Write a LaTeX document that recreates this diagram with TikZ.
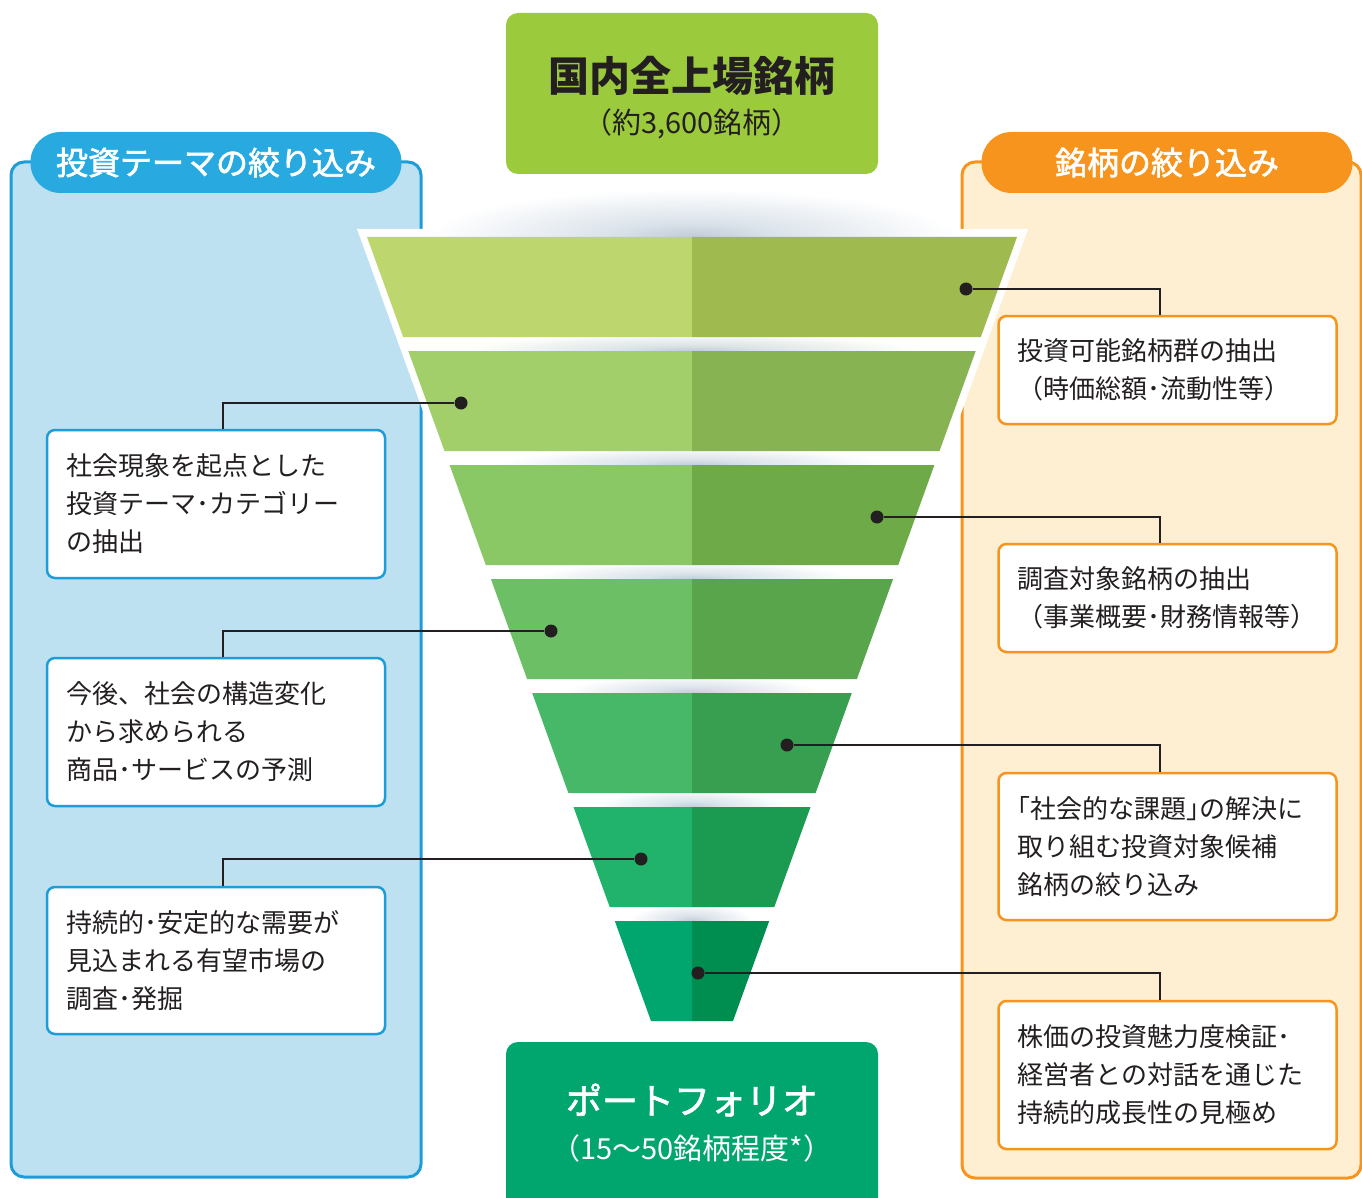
\documentclass[tikz,border=0pt]{standalone}
\usepackage{fontspec}
\newfontfamily\jp{Noto Sans CJK JP}
\newfontfamily\jpm[RawFeature={embolden=2}]{Noto Sans CJK JP}
\usepackage{tikz}
\definecolor{ink}{HTML}{231F20}
\definecolor{lline}{HTML}{1E9CD8}
\definecolor{lfill}{HTML}{BDE1F1}
\definecolor{lpill}{HTML}{28AAE1}
\definecolor{rline}{HTML}{F7941D}
\definecolor{rfill}{HTML}{FEEFD3}
\definecolor{topgreen}{HTML}{9BCA3C}
\definecolor{botgreen}{HTML}{00A66E}
\definecolor{fa1}{HTML}{BDD76E}\definecolor{fb1}{HTML}{9FBA4F}
\definecolor{fa2}{HTML}{A3CF6B}\definecolor{fb2}{HTML}{87B352}
\definecolor{fa3}{HTML}{8AC765}\definecolor{fb3}{HTML}{6EAA48}
\definecolor{fa4}{HTML}{6DBF65}\definecolor{fb4}{HTML}{58A54C}
\definecolor{fa5}{HTML}{47B768}\definecolor{fb5}{HTML}{389F50}
\definecolor{fa6}{HTML}{21B36B}\definecolor{fb6}{HTML}{1B9A52}
\definecolor{fa7}{HTML}{00A66E}\definecolor{fb7}{HTML}{008E50}
\pgfdeclareradialshading{fshadow}{\pgfpoint{0bp}{0bp}}{rgb(0bp)=(0.76,0.80,0.85); rgb(8bp)=(0.86,0.89,0.92); rgb(25bp)=(1,1,1); rgb(50bp)=(1,1,1)}
\tikzset{
  panel/.style={line width=3pt, rounded corners=13pt},
  pill/.style={rounded corners=30pt, minimum width=371pt, minimum height=61pt, inner sep=0pt, text=white, font={\jpm\fontsize{32}{38}\selectfont}},
  bigbox/.style={rounded corners=12pt, minimum width=372pt, inner sep=0pt},
  stepbox/.style={fill=white, line width=2.5pt, rounded corners=8pt, text width=300pt, inner xsep=19pt, inner ysep=0pt, align=left, text=ink, font={\jp\fontsize{26}{38}\selectfont}},
  lbox/.style={stepbox, draw=lline},
  rbox/.style={stepbox, draw=rline},
  conn/.style={draw=ink, line width=2.2pt},
  dot/.style={circle, fill=ink, minimum size=13pt, inner sep=0pt}
}
\begin{document}
\begin{tikzpicture}[x=1pt, y=-1pt]
  \useasboundingbox (0,0) rectangle (1362,1198);
  % panels
  \draw[panel, draw=lline, fill=lfill] (11,162) rectangle (421,1177);
  \draw[panel, draw=rline, fill=rfill] (962,162) rectangle (1361,1178);
  \node[pill, fill=lpill] (theme) at (216,162.5) {投資テーマの絞り込み};
  \node[pill, fill=rline] (pick) at (1167,162.5) {銘柄の絞り込み};
  % funnel
  \fill[white] (357,229) -- (1028,229) -- (737,1030) -- (647,1030) -- cycle;
  \shade[shading=fshadow] (692,237) ellipse [x radius=265, y radius=48];
  \foreach \k in {1,...,6} {
    \pgfmathsetmacro\t{237+114*\k}
    \pgfmathsetmacro\w{0.8*(325-41.3*\k)}
    \shade[shading=fshadow] (692,\t) ellipse [x radius=\w, y radius=18];
  }
  \foreach \k/\lc/\rc in {0/fa1/fb1, 1/fa2/fb2, 2/fa3/fb3, 3/fa4/fb4, 4/fa5/fb5, 5/fa6/fb6, 6/fa7/fb7} {
    \pgfmathsetmacro\t{237+114*\k}
    \pgfmathsetmacro\wt{325-41.3*\k}
    \pgfmathsetmacro\wb{\wt-36.2}
    \fill[\lc] (692-\wt,\t) -- (692,\t) -- (692,\t+100) -- (692-\wb,\t+100) -- cycle;
    \fill[\rc] (692,\t) -- (692+\wt,\t) -- (692+\wb,\t+100) -- (692,\t+100) -- cycle;
  }
  % top and bottom
  \node[bigbox, fill=topgreen, minimum height=161pt] (univ) at (692,93.5) {};
  \node[text=ink, font={\jp\fontsize{41}{48}\selectfont\bfseries}] (univt) at (692,76) {国内全上場銘柄};
  \node[text=ink, font={\jp\fontsize{29}{34}\selectfont}] (univs) at (692,124) {（約3,600銘柄）};
  \node[bigbox, fill=botgreen, minimum height=180pt] (pf) at (692,1132) {};
  \node[text=white, font={\jpm\fontsize{36}{42}\selectfont}] (pft) at (692,1100) {ポートフォリオ};
  \node[text=white, font={\jp\fontsize{29}{34}\selectfont}] (pfs) at (692,1148) {（15～50銘柄程度*）};
  % steps
  \node[lbox, minimum height=148pt] (l1) at (216,504) {社会現象を起点とした\\投資テーマ･カテゴリー\\の抽出};
  \node[lbox, minimum height=148pt] (l2) at (216,732) {今後、社会の構造変化\\から求められる\\商品･サービスの予測};
  \node[lbox, minimum height=147pt] (l3) at (216,960.5) {持続的･安定的な需要が\\見込まれる有望市場の\\調査･発掘};
  \node[rbox, minimum height=108pt] (r1) at (1167.5,370) {投資可能銘柄群の抽出\\（時価総額･流動性等）};
  \node[rbox, minimum height=108pt] (r2) at (1167.5,598) {調査対象銘柄の抽出\\（事業概要･財務情報等）};
  \node[rbox, minimum height=147pt] (r3) at (1167.5,846.5) {｢社会的な課題｣の解決に\\取り組む投資対象候補\\銘柄の絞り込み};
  \node[rbox, minimum height=148pt] (r4) at (1167.5,1075) {株価の投資魅力度検証･\\経営者との対話を通じた\\持続的成長性の見極め};
  % dots and connectors
  \foreach \pos/\name in {{(966,289)/d1}, {(461,403)/d2}, {(877,517)/d3}, {(551,631)/d4}, {(787,745)/d5}, {(641,859)/d6}, {(698,973)/d7}}
    \node[dot] (\name) at \pos {};
  \foreach \from/\to in {d1/r1, d3/r2, d5/r3, d7/r4}
    \draw[conn] (\from) -| ([xshift=-7.5pt]\to.north);
  \foreach \from/\to in {d2/l1, d4/l2, d6/l3}
    \draw[conn] (\from) -| ([xshift=7pt]\to.north);
\end{tikzpicture}
\end{document}
